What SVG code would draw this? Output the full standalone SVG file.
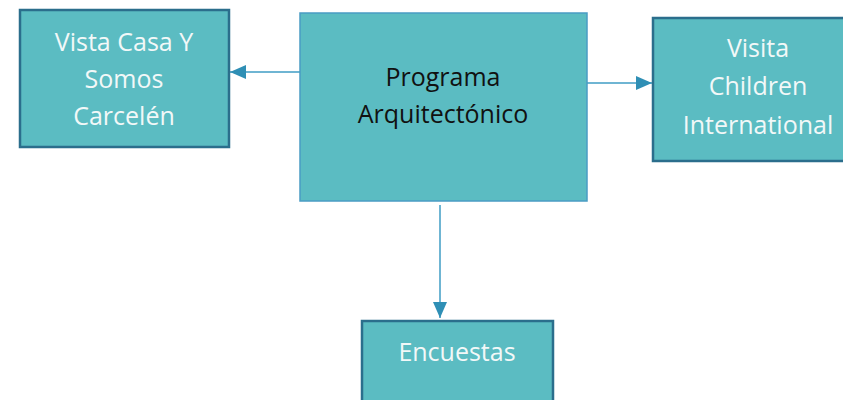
<svg xmlns="http://www.w3.org/2000/svg" width="843" height="400" viewBox="0 0 843 400">
<defs>
<style>
.box{fill:#5bbcc2;stroke:#2b6e8c;stroke-width:2.5}
.main{fill:#5bbcc2;stroke:#4a9cc4;stroke-width:1.5}
.t{font-family:"Open Sans","Liberation Sans",sans-serif;font-size:25px;fill:#f2f8f8;text-anchor:middle}
.tm{font-family:"Open Sans","Liberation Sans",sans-serif;font-size:25px;fill:#111;text-anchor:middle}
.c{stroke:#3f9dc4;stroke-width:1.5;fill:none}
</style>
<marker id="a" markerWidth="16" markerHeight="14" refX="16" refY="7" orient="auto" markerUnits="userSpaceOnUse">
<path d="M0,0 L16,7 L0,14 z" fill="#2f8fb5"/>
</marker>
</defs>
<g id="connectors">
<line class="c" x1="300" y1="72" x2="230" y2="72" marker-end="url(#a)"/>
<line class="c" x1="587" y1="83" x2="652" y2="83" marker-end="url(#a)"/>
<line class="c" x1="440" y1="205" x2="440" y2="318" marker-end="url(#a)"/>
</g>
<g id="node-main">
<rect class="main" x="300" y="13" width="287" height="188"/>
<text class="tm" x="443" y="86">Programa</text>
<text class="tm" x="443" y="123">Arquitectónico</text>
</g>
<g id="node-vista">
<rect class="box" x="20" y="10" width="209" height="137"/>
<text class="t" x="124" y="51">Vista Casa Y</text>
<text class="t" x="124" y="88">Somos</text>
<text class="t" x="124" y="125">Carcelén</text>
</g>
<g id="node-visita">
<rect class="box" x="653" y="18" width="200" height="143"/>
<text class="t" x="758" y="57">Visita</text>
<text class="t" x="758" y="95">Children</text>
<text class="t" x="758" y="134">International</text>
</g>
<g id="node-encuestas">
<rect class="box" x="362" y="321" width="191" height="100"/>
<text class="t" x="457" y="361">Encuestas</text>
</g>
</svg>
